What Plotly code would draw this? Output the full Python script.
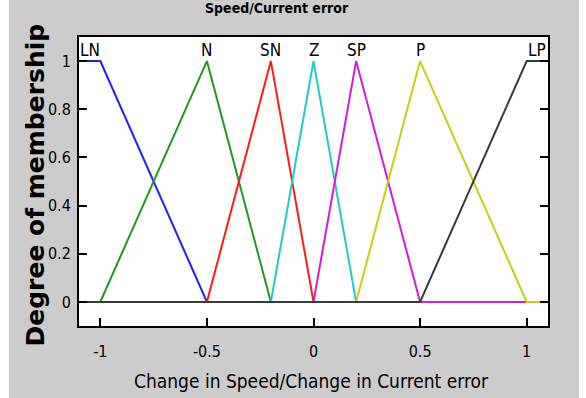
import plotly.graph_objects as go

# Membership functions (breakpoints)
mf_names = ["LN", "N", "SN", "Z", "SP", "P", "LP"]
mf_x = [
    [-1.1, -1.0, -0.5, 1.1],
    [-1.1, -1.0, -0.5, -0.2, 1.1],
    [-1.1, -0.5, -0.2, 0.0, 1.1],
    [-1.1, -0.2, 0.0, 0.2, 1.1],
    [-1.1, 0.0, 0.2, 0.5, 1.1],
    [-1.1, 0.2, 0.5, 1.0, 1.1],
    [-1.1, 0.5, 1.0, 1.1],
]
mf_y = [
    [1, 1, 0, 0],
    [0, 0, 1, 0, 0],
    [0, 0, 1, 0, 0],
    [0, 0, 1, 0, 0],
    [0, 0, 1, 0, 0],
    [0, 0, 1, 0, 0],
    [0, 0, 1, 1],
]
mf_colors = ["#1f1fff", "#1e9a1e", "#ff1a1a", "#1ccccc", "#d21ed2", "#cccc10", "#3a3a3a"]

x_ticks = [-1, -0.5, 0, 0.5, 1]
x_tick_labels = ["-1", "-0.5", "0", "0.5", "1"]
y_ticks = [0, 0.2, 0.4, 0.6, 0.8, 1]
y_tick_labels = ["0", "0.2", "0.4", "0.6", "0.8", "1"]

narrow = "Liberation Sans Narrow, DejaVu Sans Condensed, DejaVu Sans, sans-serif"

fig = go.Figure()
for name, xs, ys, c in zip(mf_names, mf_x, mf_y, mf_colors):
    fig.add_trace(go.Scatter(x=xs, y=ys, mode="lines", name=name,
                             line=dict(color=c, width=2), showlegend=False,
                             hoverinfo="skip"))

# MF labels at center of each function's maximum region
for name, xs, ys in zip(mf_names, mf_x, mf_y):
    peak_x = [x for x, y in zip(xs, ys) if y == 1]
    cx = sum(peak_x) / len(peak_x)
    if name == "LN":
        cx = -1.05
    if name == "LP":
        cx = 1.05
    fig.add_annotation(x=cx, y=1.045, xref="x", yref="y", text=name,
                       showarrow=False, xanchor="center", yanchor="middle",
                       font=dict(family=narrow, size=17, color="black"))

fig.add_annotation(x=-0.0917, y=0.5, xref="paper", yref="paper",
                   text="<b>Degree of membership</b>", textangle=-90,
                   showarrow=False, xanchor="center", yanchor="middle", yshift=-3,
                   font=dict(family="DejaVu Sans", size=25, color="black"))
fig.add_annotation(x=0.496, y=-0.19, xref="paper", yref="paper",
                   text="Change in Speed/Change in Current error",
                   showarrow=False, xanchor="center", yanchor="middle",
                   font=dict(family=narrow, size=19, color="black"))
fig.add_annotation(x=0.422, y=1.0, xref="paper", yref="paper",
                   text="<b>Speed/Current error</b>", yshift=29,
                   showarrow=False, xanchor="center", yanchor="middle",
                   font=dict(family=narrow, size=14, color="black"))

# white strips at the page edges
fig.add_shape(type="rect", xref="paper", yref="paper", x0=-0.4, x1=-0.1493, y0=-1, y1=2,
              fillcolor="white", line=dict(width=0), layer="above")
fig.add_shape(type="rect", xref="paper", yref="paper", x0=1.0661, x1=1.4, y0=-1, y1=2,
              fillcolor="white", line=dict(width=0), layer="above")

fig.update_xaxes(range=[-1.1, 1.1], tickvals=x_ticks, ticktext=x_tick_labels,
                 showgrid=False, zeroline=False, showline=True, linecolor="black",
                 linewidth=2, mirror=True, ticks="inside", ticklen=8, tickwidth=2,
                 tickcolor="black", tickfont=dict(family=narrow, size=16, color="black"),
                 ticklabelstandoff=10)
fig.update_yaxes(range=[-0.1, 1.1], tickvals=y_ticks, ticktext=y_tick_labels,
                 showgrid=False, zeroline=False, showline=True, linecolor="black",
                 linewidth=2, mirror="ticks", ticks="inside", ticklen=8, tickwidth=2,
                 tickcolor="black", tickfont=dict(family=narrow, size=16, color="black"),
                 ticklabelstandoff=3)

fig.update_layout(width=586, height=398, margin=dict(l=79, r=38, t=37, b=72),
                  paper_bgcolor="#cccccc", plot_bgcolor="white")

fig.write_html("out.html")
